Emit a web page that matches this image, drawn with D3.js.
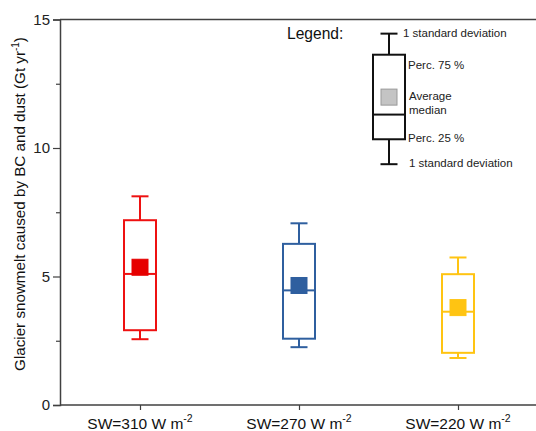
<!DOCTYPE html>
<html>
<head>
<meta charset="utf-8">
<script src="https://cdn.jsdelivr.net/npm/d3@7"></script>
<style>
  body { margin: 0; background: #fff; }
  svg { display: block; font-family: "Liberation Sans", Arial, sans-serif; }
</style>
</head>
<body>
<div class="container"></div>
<script>
// data
const categories = ["SW=310", "SW=270", "SW=220"];
const lowerSD = [2.56, 2.25, 1.83];
const perc25 = [2.91, 2.58, 2.03];
const medians = [5.10, 4.46, 3.63];
const means = [5.36, 4.65, 3.79];
const perc75 = [7.19, 6.27, 5.09];
const upperSD = [8.12, 7.07, 5.74];
const colors = ["#ee1111", "#2f5f9f", "#ffc412"];
const fills = ["#e60000", "#2f5f9f", "#ffc412"];
const yTicks = [0, 5, 10, 15];
const yMinorTicks = [2.5, 7.5, 12.5];

// legend box values (drawn on the same scale)
const legendBox = {low: 9.37, q1: 10.34, median: 11.3, mean: 11.98, q3: 13.63, high: 14.45};

const width = 536, height = 431;
const margin = {top: 19.5, right: 0, bottom: 26, left: 60};

const svg = d3.select("div.container").append("svg")
    .attr("width", width)
    .attr("height", height);

const x = d3.scalePoint()
    .domain(categories)
    .range([140, 458]);

const y = d3.scaleLinear()
    .domain([0, 15])
    .range([405, margin.top]);

const axisColor = "#404040";

// top frame line
svg.append("line")
    .attr("x1", margin.left).attr("x2", width)
    .attr("y1", y(15)).attr("y2", y(15))
    .attr("stroke", axisColor).attr("stroke-width", 1.5);

// y axis
const yAxis = svg.append("g")
    .attr("transform", `translate(${margin.left},0)`)
    .call(d3.axisLeft(y).tickValues(yTicks).tickSize(7).tickPadding(3).tickFormat(d3.format("d")));
yAxis.select(".domain").attr("stroke", axisColor).attr("stroke-width", 1.5);
yAxis.selectAll(".tick line").attr("stroke", axisColor).attr("stroke-width", 1.2);
yAxis.selectAll(".tick text").attr("font-size", 15).attr("fill", "#222")
    .attr("font-family", "Liberation Sans, Arial, sans-serif");

const yMinor = svg.append("g")
    .attr("transform", `translate(${margin.left},0)`)
    .call(d3.axisLeft(y).tickValues(yMinorTicks).tickSize(4).tickFormat(""));
yMinor.select(".domain").remove();
yMinor.selectAll(".tick line").attr("stroke", axisColor).attr("stroke-width", 1.2);

// x axis
const xAxis = svg.append("g")
    .attr("transform", `translate(0,${y(0)})`)
    .call(d3.axisBottom(x).tickSize(5).tickFormat(""));
xAxis.select(".domain").remove();
xAxis.selectAll(".tick line").attr("stroke", axisColor).attr("stroke-width", 1.2);
svg.append("line")
    .attr("x1", margin.left).attr("x2", width)
    .attr("y1", y(0)).attr("y2", y(0))
    .attr("stroke", axisColor).attr("stroke-width", 1.5);

// x tick labels with superscript
categories.forEach(c => {
    const t = svg.append("text")
        .attr("x", x(c))
        .attr("y", 429)
        .attr("text-anchor", "middle")
        .attr("font-size", 15.5)
        .attr("fill", "#111");
    t.append("tspan").text(c + " W m");
    t.append("tspan").attr("dy", -7).attr("font-size", 10.5).text("-2");
});

// y axis title
const yt = svg.append("text")
    .attr("transform", "translate(25,204) rotate(-90)")
    .attr("text-anchor", "middle")
    .attr("font-size", 15.2)
    .attr("fill", "#111");
yt.append("tspan").text("Glacier snowmelt caused by BC and dust (Gt yr");
yt.append("tspan").attr("dy", -6).attr("font-size", 10).text("-1");
yt.append("tspan").attr("dy", 6).text(")");

// boxes
const boxW = 32, capW = 17, sq = 16;
function drawBox(g, cx, lo, q1, med, mn, q3, hi, stroke, fill, meanStroke) {
    g.append("line").attr("x1", cx).attr("x2", cx).attr("y1", y(hi)).attr("y2", y(q3))
        .attr("stroke", stroke).attr("stroke-width", 2);
    g.append("line").attr("x1", cx).attr("x2", cx).attr("y1", y(q1)).attr("y2", y(lo))
        .attr("stroke", stroke).attr("stroke-width", 2);
    g.append("line").attr("x1", cx - capW / 2).attr("x2", cx + capW / 2).attr("y1", y(hi)).attr("y2", y(hi))
        .attr("stroke", stroke).attr("stroke-width", 2);
    g.append("line").attr("x1", cx - capW / 2).attr("x2", cx + capW / 2).attr("y1", y(lo)).attr("y2", y(lo))
        .attr("stroke", stroke).attr("stroke-width", 2);
    g.append("rect").attr("x", cx - boxW / 2).attr("y", y(q3))
        .attr("width", boxW).attr("height", y(q1) - y(q3))
        .attr("fill", "none").attr("stroke", stroke).attr("stroke-width", 2);
    g.append("line").attr("x1", cx - boxW / 2).attr("x2", cx + boxW / 2).attr("y1", y(med)).attr("y2", y(med))
        .attr("stroke", stroke).attr("stroke-width", 2);
    g.append("rect").attr("x", cx - sq / 2).attr("y", y(mn) - sq / 2)
        .attr("width", sq).attr("height", sq)
        .attr("fill", fill).attr("stroke", meanStroke).attr("stroke-width", 1);
}

const boxes = svg.append("g");
categories.forEach((c, i) => {
    drawBox(boxes, x(c), lowerSD[i], perc25[i], medians[i], means[i], perc75[i], upperSD[i],
        colors[i], fills[i], fills[i]);
});

// legend
const lg = svg.append("g");
const lx = 389;
drawBox(lg, lx, legendBox.low, legendBox.q1, legendBox.median, legendBox.mean, legendBox.q3, legendBox.high,
    "#111", "#c4c4c4", "#999");

lg.append("text").attr("x", 287).attr("y", 39).attr("font-size", 15.6).attr("fill", "#111").text("Legend:");
const legendLabels = [
    {t: "1 standard deviation", x: 403, y: 33},
    {t: "Perc. 75 %", x: 408, y: 65},
    {t: "Average", x: 409, y: 96},
    {t: "median", x: 409, y: 110},
    {t: "Perc. 25 %", x: 408, y: 138},
    {t: "1 standard deviation", x: 409, y: 163}
];
lg.selectAll("text.lab")
    .data(legendLabels)
    .enter()
    .append("text")
    .attr("class", "lab")
    .attr("x", d => d.x)
    .attr("y", d => d.y)
    .attr("dy", "0.35em")
    .attr("font-size", 11.5)
    .attr("fill", "#222")
    .text(d => d.t);
</script>
</body>
</html>
